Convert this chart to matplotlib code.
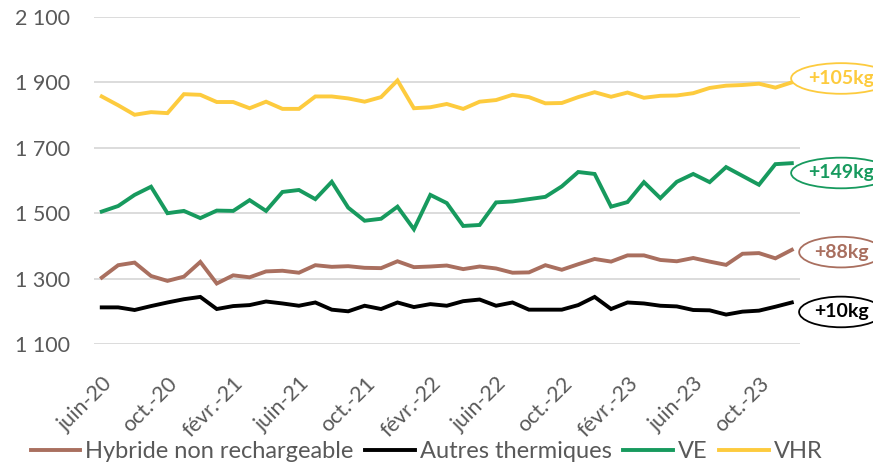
import numpy as np
import matplotlib
matplotlib.use('Agg')
import matplotlib.pyplot as plt
from matplotlib.transforms import ScaledTranslation

plt.rcParams['font.family'] = ['Lato', 'DejaVu Sans']

# monthly values, juin-20 -> déc.-23
mois = ['juin-20', 'juil.-20', 'août-20', 'sept.-20', 'oct.-20', 'nov.-20', 'déc.-20',
        'janv.-21', 'févr.-21', 'mars-21', 'avr.-21', 'mai-21', 'juin-21', 'juil.-21',
        'août-21', 'sept.-21', 'oct.-21', 'nov.-21', 'déc.-21', 'janv.-22', 'févr.-22',
        'mars-22', 'avr.-22', 'mai-22', 'juin-22', 'juil.-22', 'août-22', 'sept.-22',
        'oct.-22', 'nov.-22', 'déc.-22', 'janv.-23', 'févr.-23', 'mars-23', 'avr.-23',
        'mai-23', 'juin-23', 'juil.-23', 'août-23', 'sept.-23', 'oct.-23', 'nov.-23',
        'déc.-23']

hybride = [1303, 1341, 1349, 1308, 1293, 1306, 1351, 1285, 1310, 1304, 1322, 1324,
           1318, 1341, 1336, 1338, 1333, 1332, 1353, 1335, 1337, 1340, 1329, 1337,
           1331, 1318, 1319, 1341, 1327, 1344, 1360, 1352, 1371, 1371, 1357, 1353,
           1363, 1352, 1342, 1376, 1378, 1362, 1388]
thermiques = [1212, 1212, 1204, 1216, 1227, 1237, 1244, 1207, 1216, 1219, 1230, 1224,
              1217, 1227, 1205, 1200, 1217, 1207, 1227, 1213, 1222, 1217, 1231, 1236,
              1217, 1227, 1205, 1205, 1205, 1219, 1244, 1207, 1227, 1224, 1217, 1215,
              1204, 1203, 1190, 1199, 1202, 1214, 1227]
ve = [1505, 1522, 1556, 1581, 1500, 1507, 1485, 1508, 1507, 1540, 1507, 1565,
      1571, 1543, 1596, 1517, 1477, 1483, 1520, 1451, 1556, 1531, 1461, 1464,
      1533, 1536, 1543, 1550, 1582, 1626, 1620, 1520, 1534, 1595, 1546, 1596,
      1620, 1595, 1641, 1614, 1587, 1650, 1653]
vhr = [1857, 1830, 1801, 1809, 1806, 1864, 1862, 1840, 1840, 1821, 1841, 1819,
       1819, 1857, 1857, 1851, 1841, 1855, 1906, 1821, 1824, 1834, 1819, 1841,
       1846, 1862, 1855, 1836, 1837, 1855, 1870, 1856, 1869, 1853, 1859, 1860,
       1867, 1883, 1890, 1892, 1896, 1884, 1900]

series = [('Hybride non rechargeable', hybride, '#A96F5F', '+88kg'),
          ('Autres thermiques', thermiques, '#000000', '+10kg'),
          ('VE', ve, '#179A5E', '+149kg'),
          ('VHR', vhr, '#FDCB3E', '+105kg')]
label_y = {'+88kg': 1381, '+10kg': 1198, '+149kg': 1623, '+105kg': 1912}

fig = plt.figure(figsize=(8.73, 4.63), dpi=100)
ax = fig.add_axes([0.1077, 0.257, 0.8087, 0.7063])

x = np.arange(len(mois))
for name, vals, col, gain in series:
    ax.plot(x, vals, color=col, lw=2.8, label=name, solid_joinstyle='miter')

for name, vals, col, gain in reversed(series):
    ax.text(45.0, label_y[gain], gain, color=col, fontsize=14, fontweight='bold',
            ha='center', va='center', clip_on=False,
            bbox=dict(boxstyle='ellipse,pad=0.12', fc='white', ec=col, lw=1.3))

ax.set_ylim(1100, 2100)
ax.set_xlim(-0.47, 42.5)
ax.set_yticks(np.arange(1100, 2101, 200))
ax.set_yticklabels([f'{v:,}'.replace(',', ' ') for v in range(1100, 2101, 200)])
ax.set_xticks(x[::4])
ax.set_xticklabels(mois[::4], rotation=45, ha='right', rotation_mode='anchor')
off = ScaledTranslation(8 / 100, 0, fig.dpi_scale_trans)
for lab in ax.get_xticklabels():
    lab.set_transform(lab.get_transform() + off)
ax.grid(axis='y', color='#d9d9d9', lw=1.3)
ax.set_axisbelow(True)
for s in ax.spines.values():
    s.set_visible(False)
ax.tick_params(length=0, colors='#595959', labelsize=15.5)
ax.tick_params(axis='x', pad=21)
ax.tick_params(axis='y', pad=17)

ax.legend(loc='center', bbox_to_anchor=(0.471, -0.33), ncol=4, frameon=False,
          fontsize=17, handlelength=2.1, handletextpad=0.2, columnspacing=0.5,
          labelcolor='#595959')

fig.savefig('out.png', dpi=100)
